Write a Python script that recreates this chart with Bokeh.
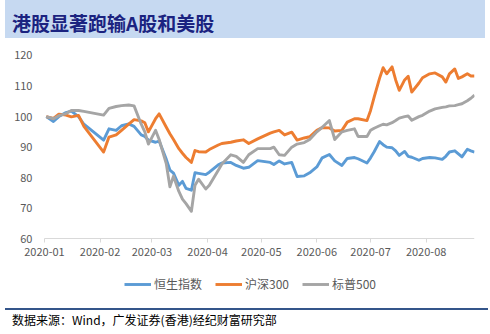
from datetime import datetime
from bokeh.plotting import figure
from bokeh.models import (Range1d, Legend, LegendItem, Div, ColumnDataSource,
                          FixedTicker, DatetimeTickFormatter)
from bokeh.layouts import column
from bokeh.embed import file_html
from bokeh.resources import INLINE

# ---------------- data ----------------
dates = [
    "2020-01-02", "2020-01-06", "2020-01-09", "2020-01-13", "2020-01-16", "2020-01-20", "2020-01-23",
    "2020-02-03", "2020-02-06", "2020-02-10", "2020-02-13", "2020-02-17", "2020-02-20", "2020-02-24",
    "2020-02-26", "2020-02-28",
    "2020-03-03", "2020-03-05", "2020-03-09", "2020-03-11", "2020-03-13", "2020-03-16", "2020-03-18",
    "2020-03-20", "2020-03-23", "2020-03-25", "2020-03-27", "2020-03-31",
    "2020-04-02", "2020-04-07", "2020-04-09", "2020-04-14", "2020-04-17", "2020-04-21", "2020-04-24",
    "2020-04-29",
    "2020-05-06", "2020-05-08", "2020-05-11", "2020-05-14", "2020-05-18", "2020-05-21", "2020-05-25",
    "2020-05-28",
    "2020-06-01", "2020-06-04", "2020-06-08", "2020-06-11", "2020-06-15", "2020-06-18", "2020-06-22",
    "2020-06-24", "2020-06-29",
    "2020-07-01", "2020-07-03", "2020-07-06", "2020-07-08", "2020-07-10", "2020-07-13", "2020-07-15",
    "2020-07-17", "2020-07-20", "2020-07-22", "2020-07-24", "2020-07-28", "2020-07-30",
    "2020-08-03", "2020-08-06", "2020-08-10", "2020-08-12", "2020-08-14", "2020-08-17", "2020-08-19",
    "2020-08-21", "2020-08-24", "2020-08-26", "2020-08-28",
]

hsi = [
    100, 98.4, 100, 101.3, 101.8, 100, 97.5,
    92.3, 96, 95.5, 97, 97.6, 96.8, 94, 93.5, 92.3,
    91.6, 92, 86, 82.5, 81.5, 77.5, 78.8, 76.5, 75.9, 81.6, 81.4, 81,
    81.8, 84.2, 84.8, 85, 84, 83.1, 83.4, 85.6,
    85, 84.3, 85.5, 84.5, 85, 80.4, 80.6, 81.6,
    83.5, 86.5, 87.6, 85.5, 84, 86.3, 86.6, 86.2, 84.8,
    86.5, 88.5, 91.8, 90.8, 90, 89.8, 88.8, 87.3, 88.6, 87, 86.7, 85.7, 86.3,
    86.6, 86.5, 86, 87, 88.4, 88.8, 87.8, 86.8, 89.3, 88.8, 88.4,
]

csi300 = [
    100, 99.4, 100.8, 100.5, 99.9, 100.4, 96.8,
    88.4, 93.3, 94, 95.5, 97.5, 99, 98.6, 98, 95,
    99.3, 100.9, 96.5, 94.4, 92.5, 89.5, 88, 86.6, 85, 88.9, 88.5, 88.4,
    89.2, 90.7, 91.2, 91.6, 92, 92.4, 91.2, 92.7,
    94.6, 95, 95.5, 94, 94.9, 92.3, 93, 93.4,
    95.5, 96.4, 96.3, 95.3, 95.5, 98.2, 99.3, 99.3, 98.7,
    102, 106.4, 112.5, 116, 114, 116.3, 112, 108.6, 112, 113.2, 108, 111, 112.7,
    114, 114.3, 113, 111.3, 114, 115.6, 112.5, 113, 114, 113.3, 113.3,
]

spx500 = [
    100, 99.3, 100.3, 101, 102, 102, 101.7,
    100.5, 102.7, 103.3, 103.6, 103.8, 103.5, 97.5, 95, 91,
    95.5, 92.5, 84.5, 77, 80.5, 75.5, 73, 71.5, 69, 77.5, 79.5, 76.3,
    77.5, 82.4, 84.5, 87.5, 87, 85, 87.5, 89.5,
    89.5, 90, 87.5, 87.3, 90, 91, 91.5, 92.5,
    95, 96.5, 98.7, 92.5, 95, 95.5, 96, 93.5, 93.5,
    95.5, 96.2, 97, 97.5, 97.3, 98, 98.7, 99.5, 100, 100.2, 98.8, 100, 100.4,
    101.8, 102.5, 103, 103.2, 103.5, 103.6, 103.9, 104.2, 105.2, 106, 107,
]

series_names = ["恒生指数", "沪深300", "标普500"]
series_colors = ["#5B9BD5", "#ED7D31", "#A5A5A5"]
y_ticks = [60, 70, 80, 90, 100, 110, 120]
y_axis_min = 60
y_axis_max = 120
month_ticks = ["2020-01-01", "2020-02-01", "2020-03-01", "2020-04-01",
               "2020-05-01", "2020-06-01", "2020-07-01", "2020-08-01"]
x_start = datetime(2020, 1, 1)
x_end = datetime(2020, 8, 28)

title_text = "港股显著跑输A股和美股"
source_text = "数据来源：Wind，广发证券(香港)经纪财富研究部"

# ---------------- figure ----------------
FONT = "Noto Sans CJK SC"
x_dates = [datetime.strptime(d, "%Y-%m-%d") for d in dates]
src = ColumnDataSource(dict(x=x_dates, hsi=hsi, csi=csi300, spx=spx500))

# The frame is larger than the plotting area so that the axis labels and the
# legend lie inside it; both axes are pinned (fixed_location) at the corner
# 2020-01-01 / 60 and bounded to the data span.
p = figure(width=490, height=260, x_axis_type="datetime",
           x_range=Range1d(datetime(2019, 12, 11, 22, 0), x_end),
           y_range=Range1d(39.8, 123.27),
           output_backend="svg", toolbar_location=None,
           min_border_left=8, min_border_right=16, min_border_top=5,
           min_border_bottom=0)
p.title.visible = False
p.outline_line_color = None
p.grid.visible = False
p.background_fill_color = "white"
p.border_fill_color = "white"

renderers = []
for col, color in zip(["hsi", "csi", "spx"], series_colors):
    r = p.line("x", col, source=src, line_color=color, line_width=2.9,
               line_join="round")
    renderers.append(r)

# y axis
ya = p.yaxis[0]
ya.fixed_location = x_start.timestamp() * 1000
ya.bounds = (y_axis_min, y_axis_max)
ya.ticker = FixedTicker(ticks=y_ticks)
ya.axis_line_color = None
ya.major_tick_line_color = None
ya.minor_tick_line_color = None
ya.major_tick_out = 0
ya.major_tick_in = 0
ya.major_label_standoff = 12
ya.major_label_text_font = FONT
ya.major_label_text_font_size = "11px"
ya.major_label_text_color = "#595959"

# x axis
xa = p.xaxis[0]
xa.fixed_location = y_axis_min
xa.bounds = (x_start.timestamp() * 1000, x_end.timestamp() * 1000)
tick_ms = [datetime.strptime(d, "%Y-%m-%d").timestamp() * 1000 for d in month_ticks]
xa.ticker = FixedTicker(ticks=tick_ms)
fmt = "%Y-%m"
xa.formatter = DatetimeTickFormatter(years=fmt, months=fmt, days=fmt, hours=fmt,
                                     hourmin=fmt, minutes=fmt, minsec=fmt,
                                     seconds=fmt, milliseconds=fmt,
                                     microseconds=fmt)
xa.axis_line_color = "#D9D9D9"
xa.major_tick_line_color = "#D9D9D9"
xa.minor_tick_line_color = None
xa.major_tick_out = 4
xa.major_tick_in = 0
xa.major_label_standoff = 5
xa.major_label_text_font = FONT
xa.major_label_text_font_size = "11px"
xa.major_label_text_color = "#595959"

legend = Legend(
    items=[LegendItem(label=n, renderers=[r]) for n, r in zip(series_names, renderers)],
    orientation="horizontal", location=(116, 8),
    glyph_width=27, glyph_height=14, label_standoff=3, spacing=13,
    padding=0, margin=0, border_line_color=None, background_fill_alpha=0,
    label_text_font=FONT, label_text_font_size="12px",
    label_text_color="#595959")
p.add_layout(legend)

# ---------------- title band and source note ----------------
title_div = Div(
    text=('<div style="position:relative;width:490px;height:40px;">'
          '<div style="position:absolute;left:5px;top:0px;width:480px;height:38px;'
          'background:#C6D9F1;"></div>'
          '<div style="position:absolute;left:12px;top:11px;font-family:\'Noto Sans CJK SC\';'
          'font-weight:bold;font-size:19px;line-height:24px;color:#1B2380;'
          'white-space:nowrap;">' + title_text + '</div></div>'),
    width=490, height=40, margin=(0, 0, 0, 0))

foot_div = Div(
    text=('<div style="position:relative;width:490px;height:34px;">'
          '<div style="position:absolute;left:5px;top:8px;width:483px;height:2px;'
          'background:#34558A;"></div>'
          '<div style="position:absolute;left:12px;top:13px;font-family:\'Noto Sans CJK SC\';'
          'font-size:12px;line-height:14px;color:#000000;white-space:nowrap;">'
          + source_text + '</div></div>'),
    width=490, height=34, margin=(0, 0, 0, 0))

layout = column(title_div, p, foot_div, spacing=0)

open("out.html", "w").write(file_html(layout, INLINE))
